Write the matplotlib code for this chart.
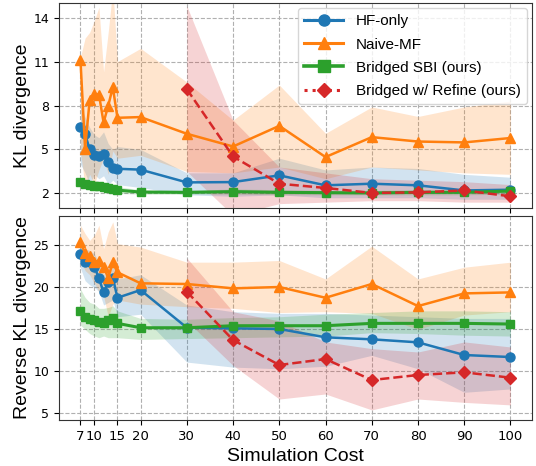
import matplotlib
matplotlib.use("Agg")
import matplotlib.pyplot as plt
from matplotlib.lines import Line2D

# simulation cost
cost = [7, 8, 9, 10, 11, 12, 13, 14, 15, 20, 30, 40, 50, 60, 70, 80, 90, 100]
cost_refine = [30, 40, 50, 60, 70, 80, 90, 100]
xticks = [7, 10, 15, 20, 30, 40, 50, 60, 70, 80, 90, 100]

# ---- KL divergence (top) ----
kl_hf = [6.53, 6.05, 5.0, 4.59, 4.52, 4.69, 4.11, 3.73, 3.68, 3.62, 2.75, 2.77, 3.23, 2.55, 2.66, 2.55, 2.2, 2.25]
kl_hf_lo = [4.0, 3.4, 2.6, 3.3, 3.0, 3.2, 2.6, 2.9, 2.6, 2.4, 1.9, 1.8, 1.9, 1.7, 1.7, 1.7, 1.6, 1.6]
kl_hf_hi = [8.0, 7.2, 6.5, 6.0, 5.8, 6.2, 5.4, 5.0, 5.2, 5.0, 3.4, 3.4, 4.4, 3.6, 3.8, 3.7, 3.3, 3.1]

kl_naive = [11.11, 5.05, 8.39, 8.78, 8.75, 6.84, 7.98, 9.25, 7.16, 7.21, 6.07, 5.2, 6.61, 4.48, 5.84, 5.54, 5.48, 5.78]
kl_naive_lo = [4.9, 2.4, 3.3, 2.6, 3.6, 4.4, 3.3, 4.9, 4.4, 4.6, 3.5, 3.4, 3.8, 3.0, 3.8, 3.6, 3.4, 3.3]
kl_naive_hi = [11.3, 12.6, 13.0, 13.8, 14.7, 10.3, 13.0, 16.0, 11.0, 11.9, 9.6, 7.0, 9.4, 6.1, 7.9, 7.25, 7.9, 8.3]

kl_bridged = [2.78, 2.62, 2.58, 2.53, 2.48, 2.43, 2.37, 2.28, 2.22, 2.09, 2.07, 2.12, 2.07, 2.05, 2.03, 2.07, 2.07, 2.16]
kl_bridged_lo = [2.5, 2.4, 2.35, 2.3, 2.25, 2.2, 2.15, 2.05, 2.0, 1.95, 1.95, 1.95, 1.9, 1.9, 1.9, 1.9, 1.9, 1.95]
kl_bridged_hi = [3.1, 2.9, 2.85, 2.8, 2.75, 2.7, 2.65, 2.55, 2.45, 2.25, 2.2, 2.3, 2.25, 2.2, 2.2, 2.25, 2.25, 2.35]

kl_refine = [9.12, 4.52, 2.66, 2.37, 2.03, 2.07, 2.2, 1.8]
kl_refine_lo = [3.5, 0.5, 1.3, 1.4, 1.5, 1.5, 1.4, 1.4]
kl_refine_hi = [14.8, 7.0, 3.8, 3.4, 3.0, 2.9, 2.8, 2.6]

# ---- Reverse KL divergence (bottom) ----
rkl_hf = [23.96, 23.05, 22.98, 22.46, 21.07, 19.4, 20.6, 21.14, 18.76, 19.68, 15.2, 15.12, 15.04, 14.05, 13.81, 13.45, 11.94, 11.7]
rkl_hf_lo = [22.3, 20.8, 20.3, 20.0, 19.5, 17.9, 18.2, 18.5, 16.5, 16.8, 11.1, 10.5, 10.3, 10.6, 11.9, 10.3, 7.5, 7.9]
rkl_hf_hi = [25.0, 24.6, 24.4, 24.0, 23.0, 21.5, 22.5, 23.0, 21.0, 21.5, 17.9, 17.1, 16.9, 16.9, 16.7, 16.5, 16.3, 16.3]

rkl_naive = [25.36, 24.05, 23.76, 23.05, 23.17, 22.46, 21.14, 22.98, 21.79, 20.48, 20.4, 19.88, 20.04, 18.76, 20.4, 17.77, 19.28, 19.4]
rkl_naive_lo = [23.3, 22.0, 21.5, 20.5, 19.5, 19.0, 16.5, 18.0, 18.5, 18.0, 17.7, 17.5, 17.0, 17.1, 16.9, 15.0, 16.7, 17.1]
rkl_naive_hi = [27.4, 26.4, 25.6, 26.2, 27.4, 24.6, 26.6, 27.8, 25.2, 24.8, 23.0, 23.0, 23.2, 21.0, 24.9, 21.0, 22.4, 23.0]

rkl_bridged = [17.18, 16.5, 16.19, 16.1, 15.9, 15.71, 16.1, 16.38, 15.71, 15.19, 15.19, 15.43, 15.43, 15.43, 15.71, 15.71, 15.71, 15.63]
rkl_bridged_lo = [15.5, 15.0, 14.5, 14.2, 14.0, 14.2, 14.0, 14.0, 14.0, 13.8, 13.9, 14.0, 14.1, 14.2, 14.6, 14.5, 14.3, 14.2]
rkl_bridged_hi = [19.8, 18.8, 18.2, 18.0, 17.5, 17.5, 17.6, 17.8, 17.2, 16.3, 16.2, 16.4, 16.5, 16.8, 17.0, 17.2, 17.2, 17.1]

rkl_refine = [19.48, 13.73, 10.75, 11.46, 8.96, 9.56, 9.88, 9.24]
rkl_refine_lo = [16.0, 10.7, 6.7, 7.3, 5.4, 6.7, 6.3, 6.0]
rkl_refine_hi = [23.5, 17.1, 16.0, 13.5, 12.7, 12.3, 13.5, 12.9]

BLUE = "#1f77b4"
ORANGE = "#ff7f0e"
GREEN = "#2ca02c"
RED = "#d62728"
ALPHA = 0.2


def draw_panel(ax, hf, hf_lo, hf_hi, naive, naive_lo, naive_hi,
               br, br_lo, br_hi, rf, rf_lo, rf_hi):
    ax.fill_between(cost, hf_lo, hf_hi, color=BLUE, alpha=ALPHA, linewidth=0)
    ax.fill_between(cost, naive_lo, naive_hi, color=ORANGE, alpha=ALPHA, linewidth=0)
    ax.fill_between(cost, br_lo, br_hi, color=GREEN, alpha=ALPHA, linewidth=0)
    ax.fill_between(cost_refine, rf_lo, rf_hi, color=RED, alpha=ALPHA, linewidth=0)
    ax.plot(cost, hf, color=BLUE, marker="o", markersize=6.5, linewidth=1.8)
    ax.plot(cost, naive, color=ORANGE, marker="^", markersize=6.5, linewidth=1.8)
    ax.plot(cost, br, color=GREEN, marker="s", markersize=6, linewidth=2.2)
    ax.plot(cost_refine, rf, color=RED, marker="D", markersize=6, linewidth=1.8,
            linestyle="--")
    ax.grid(True, color="#b0b0b0", linestyle="--", linewidth=0.8)
    ax.set_axisbelow(True)
    ax.set_xticks(xticks)
    ax.tick_params(labelsize=9)
    ax.tick_params(axis="x", labelsize=9.5)
    for s in ax.spines.values():
        s.set_color("#333333")


fig = plt.figure(figsize=(5.36, 4.66), dpi=100)
ax1 = fig.add_axes([0.110, 0.5536, 0.8825, 0.44])
ax2 = fig.add_axes([0.110, 0.0987, 0.8825, 0.4378], sharex=ax1)

draw_panel(ax1, kl_hf, kl_hf_lo, kl_hf_hi, kl_naive, kl_naive_lo, kl_naive_hi,
           kl_bridged, kl_bridged_lo, kl_bridged_hi, kl_refine, kl_refine_lo, kl_refine_hi)
draw_panel(ax2, rkl_hf, rkl_hf_lo, rkl_hf_hi, rkl_naive, rkl_naive_lo, rkl_naive_hi,
           rkl_bridged, rkl_bridged_lo, rkl_bridged_hi, rkl_refine, rkl_refine_lo, rkl_refine_hi)

ax1.set_ylim(1, 15)
ax1.set_yticks([2, 5, 8, 11, 14])
ax1.tick_params(labelbottom=False)
ax2.set_ylim(4.2, 28.5)
ax2.set_yticks([5, 10, 15, 20, 25])
ax2.set_xlim(2.35, 104.65)

lab = dict(fontsize=14, family="Liberation Sans")
ax1.set_ylabel("KL divergence", **lab)
ax2.set_ylabel("Reverse KL divergence", **lab)
ax1.yaxis.set_label_coords(-0.06, 0.5)
ax2.yaxis.set_label_coords(-0.06, 0.5)
ax2.set_xlabel("Simulation Cost", labelpad=4, **lab)

handles = [
    Line2D([0], [0], color=BLUE, marker="o", markersize=8, linewidth=2.2, label="HF-only"),
    Line2D([0], [0], color=ORANGE, marker="^", markersize=8, linewidth=2.2, label="Naive-MF"),
    Line2D([0], [0], color=GREEN, marker="s", markersize=8, linewidth=2.6, label="Bridged SBI (ours)"),
    Line2D([0], [0], color=RED, marker="D", markersize=7, linewidth=2.2, linestyle=":",
           label="Bridged w/ Refine (ours)"),
]
ax1.legend(handles=handles, loc="upper right", prop={"family": "Liberation Sans", "size": 11},
           labelspacing=0.6, handlelength=2.6, borderaxespad=0.35)

fig.savefig("out.png", dpi=100)
